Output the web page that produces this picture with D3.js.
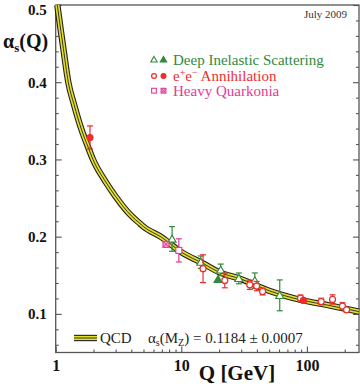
<!DOCTYPE html>
<html>
<head>
<meta charset="utf-8">
<script src="https://cdn.jsdelivr.net/npm/d3@7"></script>
<style>
  html, body { margin: 0; padding: 0; background: #fff; }
  svg { display: block; }
  svg text { font-family: "Liberation Serif", "Times New Roman", serif; }
</style>
</head>
<body>
<div id="chart"></div>
<script>
// --- data ---
// QCD running coupling (central curve)
const qcdQ     = [1.03, 1.1, 1.15, 1.26, 1.4, 1.61, 1.8, 1.98, 2.5, 3, 4, 4.69, 5, 7, 10, 15, 20, 30, 50, 90, 150, 260];
const qcdAlpha = [0.500, 0.466, 0.444, 0.400, 0.371, 0.338, 0.317, 0.300, 0.271, 0.252, 0.227, 0.217, 0.213, 0.199, 0.180, 0.165, 0.154, 0.145, 0.130, 0.118, 0.111, 0.103];

// Deep inelastic scattering
const disOpenQ     = [8.45, 14.3, 20.6, 28.7, 38.5, 60.8];
const disOpenAlpha = [0.197, 0.167, 0.157, 0.146, 0.143, 0.124];
const disOpenErr   = [0.016, 0.008, 0.0075, 0.007, 0.010, 0.020];
const disFullQ     = [19.6];
const disFullAlpha = [0.1446];
const disFullErr   = [0];

// e+e- annihilation
const eeOpenQ     = [14.9, 22.2, 35.1, 39.8, 44.4, 89, 130, 160, 192, 207];
const eeOpenAlpha = [0.1585, 0.1433, 0.1377, 0.136, 0.129, 0.1204, 0.116, 0.1187, 0.110, 0.1053];
const eeOpenErr   = [0.018, 0.0095, 0.006, 0.006, 0.0045, 0.004, 0.0043, 0.006, 0.0045, 0.003];
const eeFullQ     = [1.875, 94];
const eeFullAlpha = [0.3284, 0.1174];
const eeFullErr   = [0.015, 0.002];

// heavy quarkonia
const hqOpenQ     = [9.56];
const hqOpenAlpha = [0.1822];
const hqOpenErr   = [0.015];
const hqFullQ     = [7.55];
const hqFullAlpha = [0.190];
const hqFullErr   = [0];

const yMajorTicks = [0.1, 0.2, 0.3, 0.4, 0.5];
const xMajorTicks = [1, 10, 100];

const colors = { dis: "#2f8a3a", ee: "#ec2d2d", hq: "#e23b97", band: "#e4de2c" };
const serif = "Liberation Serif, Times New Roman, serif";

// --- layout ---
const width = 360, height = 387;
const margin = { top: 5, right: 1, bottom: 34.5, left: 55.7 };
const plotW = width - margin.left - margin.right;
const plotH = height - margin.top - margin.bottom;

const svg = d3.select("#chart").append("svg")
  .attr("width", width)
  .attr("height", height);

const x = d3.scaleLog().domain([1, 260]).range([0, plotW]);
const y = d3.scaleLinear().domain([0.05, 0.5]).range([plotH, 0]);

const g = svg.append("g").attr("transform", `translate(${margin.left},${margin.top})`);

// minor tick values
const yMinor = d3.range(0.06, 0.5, 0.02).filter(v => !yMajorTicks.some(t => Math.abs(t - v) < 1e-6));
const xMinor = [];
[1, 10, 100].forEach(d => { for (let k = 2; k <= 9; k++) if (d * k <= 260) xMinor.push(d * k); });

const axisColor = "#555";

function styleAxis(sel) {
  sel.select(".domain").remove();
  sel.selectAll("line").attr("stroke", axisColor).attr("stroke-width", 1.1);
}

// left axis
g.append("g")
  .call(d3.axisLeft(y).tickValues(yMajorTicks).tickSize(-6).tickPadding(9).tickFormat(d3.format(".1f")))
  .call(styleAxis)
  .call(s => s.selectAll("text").attr("font-family", serif)
    .attr("font-size", 15).attr("font-weight", "bold").attr("fill", "#111"))
  // the top label sits against the picture's upper edge
  .call(s => s.selectAll(".tick").filter(d => d === 0.5).select("text").attr("dy", "0.62em"));
g.append("g")
  .call(d3.axisLeft(y).tickValues(yMinor).tickSize(-3).tickFormat(""))
  .call(styleAxis);

// right axis
g.append("g").attr("transform", `translate(${plotW},0)`)
  .call(d3.axisRight(y).tickValues(yMajorTicks).tickSize(-6).tickFormat(""))
  .call(styleAxis);
g.append("g").attr("transform", `translate(${plotW},0)`)
  .call(d3.axisRight(y).tickValues(yMinor).tickSize(-3).tickFormat(""))
  .call(styleAxis);

// bottom axis
g.append("g").attr("transform", `translate(0,${plotH})`)
  .call(d3.axisBottom(x).tickValues(xMajorTicks).tickSize(-6).tickPadding(7).tickFormat(d3.format("d")))
  .call(styleAxis)
  .call(s => s.selectAll("text").attr("font-family", serif)
    .attr("font-size", 16).attr("font-weight", "bold").attr("fill", "#111"));
g.append("g").attr("transform", `translate(0,${plotH})`)
  .call(d3.axisBottom(x).tickValues(xMinor).tickSize(-3).tickFormat(""))
  .call(styleAxis);

// frame
g.append("rect")
  .attr("width", plotW).attr("height", plotH)
  .attr("fill", "none").attr("stroke", axisColor).attr("stroke-width", 1.3);

// --- QCD band ---
const qcdData = qcdQ.map((q, i) => [q, qcdAlpha[i]]);
const qcdLine = d3.line()
  .x(d => x(d[0])).y(d => y(d[1]))
  .curve(d3.curveMonotoneX);

const bandStrokes = [[6.4, "#222"], [4.2, colors.band], [0.9, "#222"]];
const plot = g.append("g");
bandStrokes.forEach(([w, c]) => {
  plot.append("path").attr("d", qcdLine(qcdData))
    .attr("fill", "none").attr("stroke", c).attr("stroke-width", w);
});

// --- data points ---
function drawSeries(qs, alphas, errs, color, shape, filled) {
  const pts = qs.map((q, i) => ({ q, a: alphas[i], e: errs[i] }));
  const grp = plot.append("g");
  pts.filter(p => p.e > 0).forEach(p => {
    const px = x(p.q);
    grp.append("line").attr("x1", px).attr("x2", px)
      .attr("y1", y(p.a + p.e)).attr("y2", y(p.a - p.e))
      .attr("stroke", color).attr("stroke-width", 1.2);
    [p.a + p.e, p.a - p.e].forEach(v => {
      grp.append("line").attr("x1", px - 3).attr("x2", px + 3)
        .attr("y1", y(v)).attr("y2", y(v))
        .attr("stroke", color).attr("stroke-width", 1.2);
    });
  });
  pts.forEach(p => drawMarker(grp, x(p.q), y(p.a), color, shape, filled, 1));
}

function drawMarker(parent, px, py, color, shape, filled, k) {
  if (shape === "triangle") {
    parent.append("path")
      .attr("d", d3.symbol(d3.symbolTriangle, 28 * k * k)())
      .attr("transform", `translate(${px},${py + 0.8 * k})`)
      .attr("fill", filled ? color : "#fff").attr("stroke", color).attr("stroke-width", 1.1);
  } else if (shape === "circle") {
    parent.append("circle").attr("cx", px).attr("cy", py).attr("r", 3 * k)
      .attr("fill", filled ? color : "#fff").attr("stroke", color).attr("stroke-width", 1.2);
  } else {
    const s = 6 * k;
    parent.append("rect").attr("x", px - s / 2).attr("y", py - s / 2)
      .attr("width", s).attr("height", s)
      .attr("fill", filled ? "#f3a6cc" : "#fff").attr("stroke", color).attr("stroke-width", 1.1);
    if (filled) {
      parent.append("path")
        .attr("d", `M${px - s / 2},${py - s / 2}L${px + s / 2},${py + s / 2}M${px + s / 2},${py - s / 2}L${px - s / 2},${py + s / 2}`)
        .attr("stroke", color).attr("stroke-width", 1);
    }
  }
}

drawSeries(disOpenQ, disOpenAlpha, disOpenErr, colors.dis, "triangle", false);
drawSeries(disFullQ, disFullAlpha, disFullErr, colors.dis, "triangle", true);
drawSeries(eeOpenQ, eeOpenAlpha, eeOpenErr, colors.ee, "circle", false);
drawSeries(eeFullQ, eeFullAlpha, eeFullErr, colors.ee, "circle", true);
drawSeries(hqOpenQ, hqOpenAlpha, hqOpenErr, colors.hq, "square", false);
drawSeries(hqFullQ, hqFullAlpha, hqFullErr, colors.hq, "square", true);

// --- legend (top) ---
const legendItems = [
  { shape: "triangle", color: colors.dis, label: "Deep Inelastic Scattering", y: 59.5 },
  { shape: "circle", color: colors.ee, label: null, y: 76 },
  { shape: "square", color: colors.hq, label: "Heavy Quarkonia", y: 90.7 }
];
legendItems.forEach(item => {
  drawMarker(svg, 154, item.y, item.color, item.shape, false, 0.8);
  drawMarker(svg, 163.5, item.y, item.color, item.shape, true, 0.8);
  const t = svg.append("text").attr("x", 173).attr("y", item.y + 5)
    .attr("font-family", serif).attr("font-size", 15).attr("fill", item.color);
  if (item.label) {
    t.text(item.label);
  } else {
    t.append("tspan").text("e");
    t.append("tspan").attr("font-size", 10).attr("dy", -5).text("+");
    t.append("tspan").attr("font-size", 15).attr("dy", 5).text("e");
    t.append("tspan").attr("font-size", 10).attr("dy", -5).text("\u2212");
    t.append("tspan").attr("font-size", 15).attr("dy", 5).text(" Annihilation");
  }
});

svg.append("text").attr("x", 347).attr("y", 18).attr("text-anchor", "end")
  .attr("font-family", serif).attr("font-size", 11).attr("fill", "#333").text("July 2009");

// --- bottom legend: QCD band ---
const bx0 = 74, bx1 = 97, by = 338;
bandStrokes.forEach(([w, c]) => {
  svg.append("line").attr("x1", bx0).attr("x2", bx1).attr("y1", by).attr("y2", by)
    .attr("stroke", c).attr("stroke-width", w);
});
svg.append("text").attr("x", 100).attr("y", 343)
  .attr("font-family", serif).attr("font-size", 15).attr("fill", "#222").text("QCD");
const mz = svg.append("text").attr("x", 148).attr("y", 343)
  .attr("font-family", serif).attr("font-size", 15).attr("fill", "#222");
mz.append("tspan").text("\u03b1");
mz.append("tspan").attr("font-size", 10).attr("dy", 3).text("s");
mz.append("tspan").attr("font-size", 15).attr("dy", -3).text("(M");
mz.append("tspan").attr("font-size", 10).attr("dy", 3).text("Z");
mz.append("tspan").attr("font-size", 15).attr("dy", -3).text(") = 0.1184 \u00b1 0.0007");

// --- axis titles ---
const yt = svg.append("text").attr("x", 3).attr("y", 48)
  .attr("font-family", serif).attr("font-size", 20).attr("font-weight", "bold").attr("fill", "#111");
yt.append("tspan").text("\u03b1");
yt.append("tspan").attr("font-size", 13).attr("dy", 4).text("s");
yt.append("tspan").attr("font-size", 20).attr("dy", -4).text("(Q)");

svg.append("text").attr("x", 237).attr("y", 380).attr("text-anchor", "middle")
  .attr("font-family", serif).attr("font-size", 21).attr("font-weight", "bold").attr("fill", "#111").text("Q [GeV]");
</script>
</body>
</html>
